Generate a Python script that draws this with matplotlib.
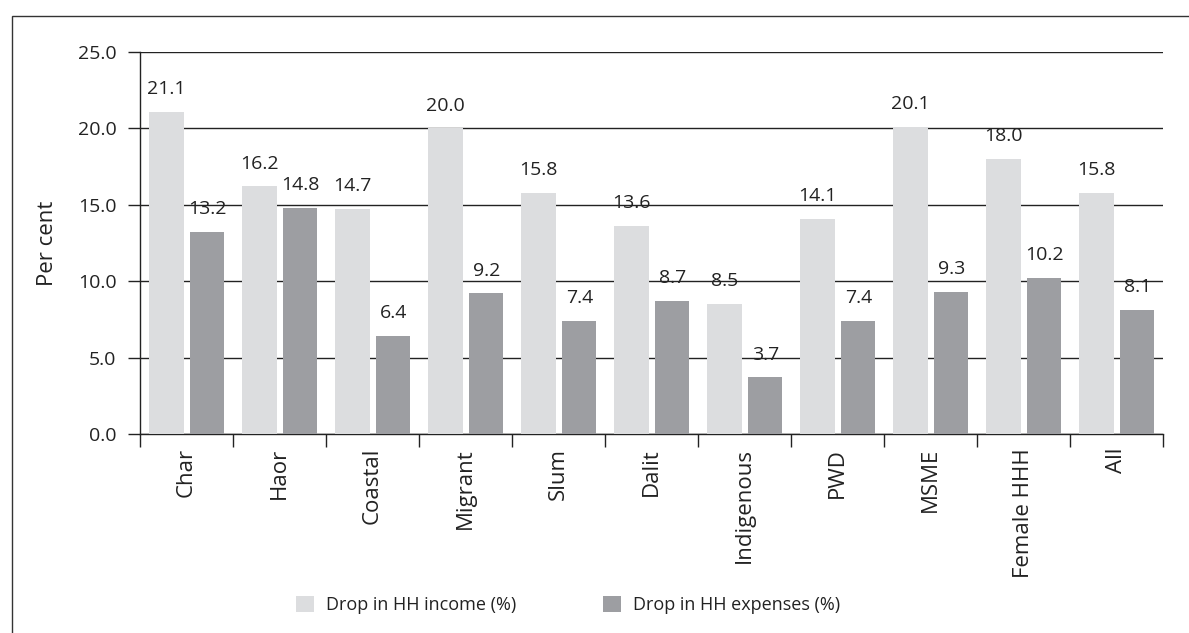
import numpy as np
import matplotlib.pyplot as plt
from matplotlib.patches import Rectangle

categories = ['Char', 'Haor', 'Coastal', 'Migrant', 'Slum', 'Dalit',
              'Indigenous', 'PWD', 'MSME', 'Female HHH', 'All']
income_drop = [21.1, 16.2, 14.7, 20.0, 15.8, 13.6, 8.5, 14.1, 20.1, 18.0, 15.8]
expense_drop = [13.2, 14.8, 6.4, 9.2, 7.4, 8.7, 3.7, 7.4, 9.3, 10.2, 8.1]
yticks = [0.0, 5.0, 10.0, 15.0, 20.0, 25.0]

plt.rcParams['font.family'] = ['Open Sans', 'DejaVu Sans']
plt.rcParams['font.size'] = 14

LIGHT = '#dcdddf'
DARK = '#9d9ea2'
INK = '#222222'

fig = plt.figure(figsize=(11.89, 6.33), dpi=100)
# outer frame (only top and left edges are visible)
fig.patches.append(Rectangle((12 / 1189, -0.1), 1.2, 1.1 - 16 / 633, transform=fig.transFigure,
                             fill=False, edgecolor='#333333', linewidth=1.0))

ax = fig.add_axes([140 / 1189, 1 - 434 / 633, (1163 - 140) / 1189, (434 - 52) / 633])

x = np.arange(len(categories))
w = 0.366
ax.bar(x - 0.215, income_drop, w, color=LIGHT, zorder=3, label='Drop in HH income (%)')
ax.bar(x + 0.225, expense_drop, w, color=DARK, zorder=3, label='Drop in HH expenses (%)')

for i in range(len(categories)):
    ax.annotate(f'{income_drop[i]:.1f}', (x[i] - 0.215, income_drop[i]), xytext=(0, 10),
                textcoords='offset points', ha='center', va='bottom', fontsize=14, color=INK)
    ax.annotate(f'{expense_drop[i]:.1f}', (x[i] + 0.225, expense_drop[i]), xytext=(0, 10),
                textcoords='offset points', ha='center', va='bottom', fontsize=14, color=INK)

ax.set_xlim(-0.5, len(categories) - 0.5)
ax.set_ylim(0, 25)
ax.set_yticks(yticks)
ax.set_yticklabels([f'{t:.1f}' for t in yticks], fontsize=14, color=INK)
ax.yaxis.grid(True, color=INK, linewidth=1.0, zorder=0)
ax.tick_params(axis='y', length=9, width=1.0, color=INK, pad=8)

ax.set_xticks(x)
ax.set_xticklabels(categories, rotation=90, fontsize=16, color=INK)
ax.tick_params(axis='x', which='major', length=0, pad=10)
ax.set_xticks(np.arange(len(categories) + 1) - 0.5, minor=True)
ax.tick_params(axis='x', which='minor', length=9, width=1.0, color=INK)

for s in ['top', 'right']:
    ax.spines[s].set_visible(False)
for s in ['left', 'bottom']:
    ax.spines[s].set_color(INK)
    ax.spines[s].set_linewidth(1.0)

ax.set_ylabel('Per cent', labelpad=14, fontsize=16, color=INK)

fig.legend(loc='center', bbox_to_anchor=(0.478, 1 - 605 / 633), ncol=2, frameon=False,
           fontsize=13, handlelength=1.0, handleheight=0.95, columnspacing=4.8,
           handletextpad=0.67, labelcolor=INK)

fig.savefig('out.png', dpi=100)
